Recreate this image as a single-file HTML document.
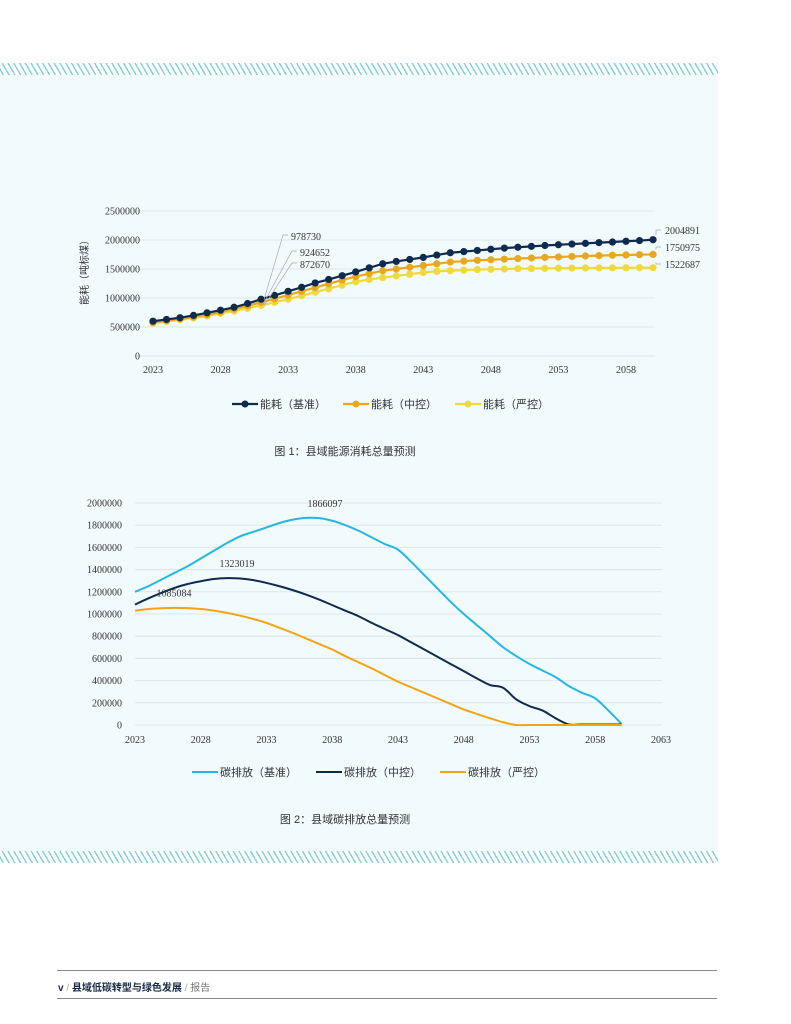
<!DOCTYPE html>
<html><head><meta charset="utf-8"><style>
body{margin:0;width:791px;height:1024px;background:#fff;position:relative;overflow:hidden;font-family:"Liberation Sans","Noto Sans CJK SC",sans-serif}
.panel{position:absolute;left:0;top:75px;width:718px;height:776px;background:#f1fbfc}
.hatch{position:absolute;left:0;width:718px;height:12px;background:repeating-linear-gradient(60deg,#fff 0 2.2px,#7fd0d8 2.2px 3.6px,#fff 3.6px 5px)}
.cap{position:absolute;font-size:11px;color:#333;width:718px;text-align:center}
svg text{font-family:"Liberation Serif","Noto Serif CJK SC",serif;fill:#333}
.cn{font-family:"Liberation Sans","Noto Sans CJK SC",sans-serif}
.foot{position:absolute;left:57px;width:660px;border-top:1px solid #888}
</style></head><body>
<div class="hatch" style="top:63px"></div>
<div class="panel"></div>
<div class="hatch" style="top:851px"></div>
<svg id="c1" width="791" height="440" style="position:absolute;left:0;top:0"></svg>
<svg id="c2" width="791" height="800" style="position:absolute;left:0;top:0"></svg>
<div class="cap" style="top:443px;left:-14px">图 1：县域能源消耗总量预测</div>
<div class="cap" style="top:811px;left:-14px">图 2：县域碳排放总量预测</div>
<div class="foot" style="top:970px"></div>
<div style="position:absolute;left:58px;top:979px;font-size:10px;color:#1a2a44"><b>v</b> <span style="color:#aaa">/</span> <b>县域低碳转型与绿色发展</b> <span style="color:#aaa">/</span> <span style="color:#777">报告</span></div>
<div class="foot" style="top:998px"></div>
<script>
const years1=[];for(let y=2023;y<=2060;y++)years1.push(y);
const energyBase=[600000,630000,660000,700000,745000,790000,840000,905000,978730,1045000,1115000,1185000,1260000,1320000,1385000,1450000,1520000,1590000,1630000,1665000,1700000,1740000,1780000,1800000,1820000,1840000,1860000,1875000,1890000,1905000,1918000,1930000,1942000,1955000,1965000,1978000,1990000,2004891];
const energyMid=[580000,610000,640000,675000,715000,760000,810000,865000,924652,985000,1050000,1115000,1180000,1245000,1310000,1370000,1420000,1470000,1500000,1530000,1560000,1590000,1620000,1635000,1650000,1660000,1670000,1680000,1690000,1700000,1708000,1716000,1724000,1731000,1737000,1742000,1747000,1750975];
const energyStrict=[565000,595000,625000,655000,690000,735000,775000,822000,872670,925000,980000,1040000,1100000,1160000,1220000,1280000,1320000,1350000,1380000,1410000,1440000,1460000,1470000,1480000,1490000,1495000,1500000,1505000,1508000,1511000,1513000,1515000,1517000,1519000,1520000,1521000,1522000,1522687];
const yTicks1=[0,500000,1000000,1500000,2000000,2500000];
const xTicks1=[2023,2028,2033,2038,2043,2048,2053,2058];
const years2=years1;
const carbonBase=[1200000,1250000,1310000,1370000,1430000,1500000,1570000,1640000,1700000,1740000,1780000,1820000,1850000,1866097,1864000,1840000,1800000,1750000,1690000,1630000,1580000,1470000,1350000,1230000,1110000,1000000,900000,800000,700000,620000,550000,490000,430000,350000,290000,240000,130000,10000];
const carbonMid=[1085084,1140000,1190000,1235000,1270000,1295000,1315000,1323019,1320000,1305000,1280000,1250000,1215000,1175000,1130000,1080000,1030000,980000,920000,865000,810000,745000,680000,615000,550000,485000,420000,360000,335000,230000,170000,130000,60000,5000,5000,5000,5000,5000];
const carbonStrict=[1030000,1045000,1052000,1055000,1053000,1045000,1030000,1010000,985000,955000,920000,875000,830000,780000,730000,680000,620000,565000,510000,450000,390000,340000,290000,240000,190000,140000,100000,60000,25000,0,0,0,0,0,0,0,0,0];
const yTicks2=[0,200000,400000,600000,800000,1000000,1200000,1400000,1600000,1800000,2000000];
const xTicks2=[2023,2028,2033,2038,2043,2048,2053,2058,2063];
const NS="http://www.w3.org/2000/svg";
function mk(svg,tag,attrs,text){const e=document.createElementNS(NS,tag);for(const k in attrs)e.setAttribute(k,attrs[k]);if(text!==undefined)e.textContent=text;svg.appendChild(e);return e;}
// chart 1
const s1=document.getElementById('c1');
const X1=y=>153+(y-2023)*13.514, Y1=v=>356-v/500000*29;
yTicks1.forEach(t=>{const g=mk(s1,'line',{x1:137,x2:655,y1:Y1(t),y2:Y1(t),stroke:'#dde4e8','stroke-width':1});

const l=mk(s1,'text',{x:140,y:Y1(t)+3.5,'text-anchor':'end','font-size':10},t);
});
xTicks1.forEach(t=>{const l=mk(s1,'text',{x:X1(t),y:373,'text-anchor':'middle','font-size':10},t);
});
const yt=mk(s1,'text',{x:88,y:270,'text-anchor':'middle','font-size':10,transform:'rotate(-90 88 270)',class:'cn'},'能耗（吨标煤）');

[[energyStrict,'#f0d93a','series-strict'],[energyMid,'#e8a71c','series-mid'],[energyBase,'#0e2a4e','series-base']].forEach(([d,c,n])=>{
const p=mk(s1,'polyline',{points:d.map((v,i)=>X1(years1[i])+','+Y1(v)).join(' '),fill:'none',stroke:c,'stroke-width':2.2});

d.forEach((v,i)=>{const m=mk(s1,'circle',{cx:X1(years1[i]),cy:Y1(v),r:3.6,fill:c});
});});
[[energyBase,240,'#0e2a4e',283],[energyMid,256,'#e8a71c',292],[energyStrict,268,'#f0d93a',292]].forEach(([d,ly,c,lx])=>{
const v=d[8];const ln=mk(s1,'polyline',{points:`${lx+5},${ly-5} ${lx},${ly-5} ${X1(2031)+3},${Y1(v)}`,fill:'none',stroke:'#aaa','stroke-width':0.7});

const t=mk(s1,'text',{x:lx+8,y:ly,'font-size':10},v);});
[[energyBase,234],[energyMid,251],[energyStrict,268]].forEach(([d,ly])=>{const v=d[d.length-1];
const ln=mk(s1,'polyline',{points:`${X1(2060)+3},${Y1(v)-5} ${X1(2060)+3},${ly-4} ${X1(2060)+8},${ly-4}`,fill:'none',stroke:'#aaa','stroke-width':0.7});

const t=mk(s1,'text',{x:665,y:ly,'font-size':10},v);});
[['能耗（基准）','#0e2a4e',232],['能耗（中控）','#e8a71c',343],['能耗（严控）','#f0d93a',455]].forEach(([n,c,x])=>{
const l=mk(s1,'line',{x1:x,x2:x+26,y1:404,y2:404,stroke:c,'stroke-width':2.2});
const m=mk(s1,'circle',{cx:x+13,cy:404,r:3.5,fill:c});
const t=mk(s1,'text',{x:x+28,y:408,'font-size':11,class:'cn'},n);});
// chart 2
const s2=document.getElementById('c2');
const X2=y=>135+(y-2023)*13.15, Y2=v=>725-v/1000000*111;
yTicks2.forEach(t=>{const g=mk(s2,'line',{x1:135,x2:662,y1:Y2(t),y2:Y2(t),stroke:'#dde4e8','stroke-width':1});

const l=mk(s2,'text',{x:122,y:Y2(t)+3.5,'text-anchor':'end','font-size':10},t);
});
xTicks2.forEach(t=>{const l=mk(s2,'text',{x:X2(t),y:743,'text-anchor':'middle','font-size':10},t);
});
function smooth(pts){let d=`M${pts[0][0]},${pts[0][1]}`;for(let i=0;i<pts.length-1;i++){const p0=pts[i-1]||pts[i],p1=pts[i],p2=pts[i+1],p3=pts[i+2]||p2;
d+=` C${p1[0]+(p2[0]-p0[0])/6},${p1[1]+(p2[1]-p0[1])/6} ${p2[0]-(p3[0]-p1[0])/6},${p2[1]-(p3[1]-p1[1])/6} ${p2[0]},${p2[1]}`;}return d;}
[[carbonBase,'#25b6e4','carbon-base-line'],[carbonMid,'#0e2a4e','carbon-mid-line'],[carbonStrict,'#f0a516','carbon-strict-line']].forEach(([d,c,n])=>{
const p=mk(s2,'path',{d:smooth(d.map((v,i)=>[X2(years2[i]),Y2(v)])),fill:'none',stroke:c,'stroke-width':2});
});
function peak(d){let m=0;d.forEach((v,i)=>{if(v>d[m])m=i;});return m;}
[[carbonBase,peak(carbonBase),19,-11],[carbonMid,peak(carbonMid),10,-11],[carbonMid,0,39,-8]].forEach(([d,i,dx,dy])=>{
const t=mk(s2,'text',{x:X2(years2[i])+dx,y:Y2(d[i])+dy,'text-anchor':'middle','font-size':10},d[i]);
});
[['碳排放（基准）','#25b6e4',192],['碳排放（中控）','#0e2a4e',316],['碳排放（严控）','#f0a516',440]].forEach(([n,c,x])=>{
const l=mk(s2,'line',{x1:x,x2:x+26,y1:772,y2:772,stroke:c,'stroke-width':2});
const t=mk(s2,'text',{x:x+28,y:776,'font-size':11,class:'cn'},n);});
</script>
</body></html>
